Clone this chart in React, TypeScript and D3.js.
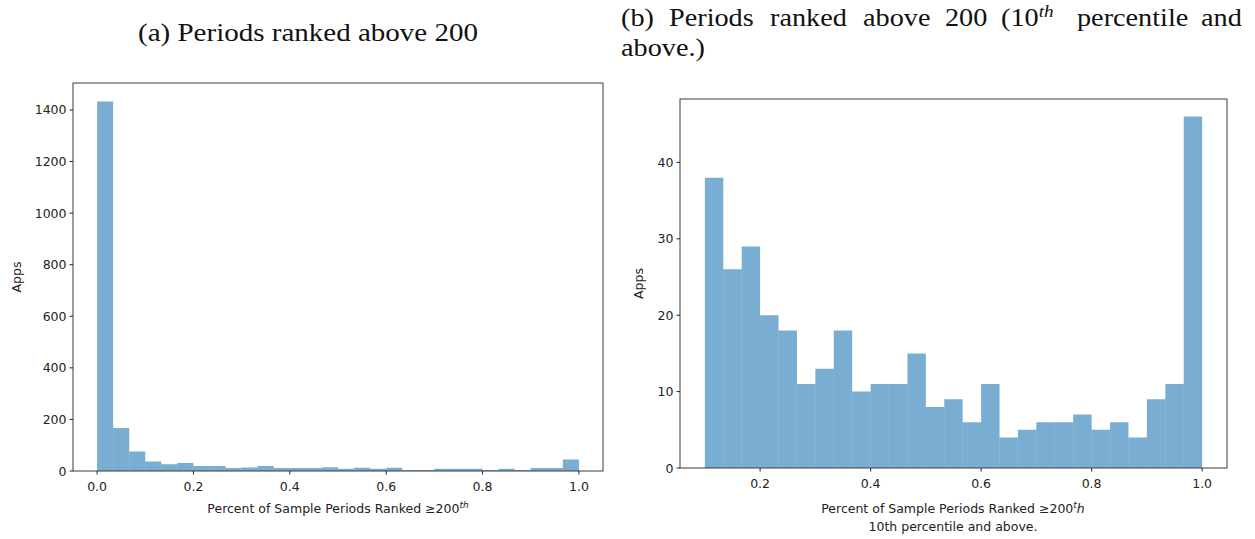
import React from 'react';
import * as d3 from 'd3';

// ---------- data ----------
const leftCounts = [1433, 167, 76, 37, 26, 31, 19, 19, 12, 14, 19, 12, 12, 12, 15, 9, 13, 9, 13, 4, 4, 9, 9, 9, 4, 9, 4, 12, 12, 45];
const leftBinRange = [0, 1];
const leftXTicks = [0, 0.2, 0.4, 0.6, 0.8, 1.0];
const leftYTicks = [0, 200, 400, 600, 800, 1000, 1200, 1400];

const rightCounts = [38, 26, 29, 20, 18, 11, 13, 18, 10, 11, 11, 15, 8, 9, 6, 11, 4, 5, 6, 6, 7, 5, 6, 4, 9, 11, 46];
const rightBinRange = [0.1, 1.0];
const rightXTicks = [0.2, 0.4, 0.6, 0.8, 1.0];
const rightYTicks = [0, 10, 20, 30, 40];

const titleBWords = ['(b)', 'Periods', 'ranked', 'above', '200', '(10', 'percentile', 'and'];

const W = 1255;
const H = 539;
const SANS = "'DejaVu Sans', sans-serif";
const SERIF = "'Liberation Serif', 'DejaVu Serif', serif";
const TICK_FS = 12.5;
const TITLE_FS = 25;
const TITLE_SX = 1.13;

type Box = { x0: number; x1: number; y0: number; y1: number };

function Panel({ box, counts, binRange, xTicks, yTicks, ylabelX }: {
  box: Box; counts: number[]; binRange: number[]; xTicks: number[]; yTicks: number[]; ylabelX: number;
}) {
  const span = binRange[1] - binRange[0];
  const xs = d3.scaleLinear().domain([binRange[0] - 0.05 * span, binRange[1] + 0.05 * span]).range([box.x0, box.x1]);
  const ymax = (d3.max(counts) as number) * 1.05;
  const ys = d3.scaleLinear().domain([0, ymax]).range([box.y1, box.y0]);
  const bw = span / counts.length;
  const fmtX = d3.format('.1f');
  const p = d3.path();
  p.moveTo(xs(binRange[0]), ys(0));
  counts.forEach((c, i) => {
    const a = binRange[0] + i * bw;
    const b = a + bw;
    p.lineTo(xs(a), ys(c));
    p.lineTo(xs(b), ys(c));
  });
  p.lineTo(xs(binRange[1]), ys(0));
  p.closePath();
  return (
    <g>
      <path d={p.toString()} fill="#1f77b4" fillOpacity={0.6} />
      {counts.slice(1).map((c, i) => {
        const xe = xs(binRange[0] + (i + 1) * bw);
        const top = Math.max(ys(c), ys(counts[i]));
        return <line key={i} x1={xe} x2={xe} y1={top} y2={ys(0)} stroke="#ffffff" strokeOpacity={0.12} strokeWidth={0.8} />;
      })}
      <rect x={box.x0} y={box.y0} width={box.x1 - box.x0} height={box.y1 - box.y0}
        fill="none" stroke="#3a3a3a" strokeWidth={1} />
      {xTicks.map((t) => (
        <g key={'x' + t}>
          <line x1={xs(t)} x2={xs(t)} y1={box.y1} y2={box.y1 + 3.5} stroke="#222" strokeWidth={1} />
          <text x={xs(t)} y={box.y1 + 20} textAnchor="middle" fontFamily={SANS} fontSize={TICK_FS} fill="#222">{fmtX(t)}</text>
        </g>
      ))}
      {yTicks.map((t) => (
        <g key={'y' + t}>
          <line x1={box.x0 - 3.5} x2={box.x0} y1={ys(t)} y2={ys(t)} stroke="#222" strokeWidth={1} />
          <text x={box.x0 - 6.5} y={ys(t)} dy="0.36em" textAnchor="end" fontFamily={SANS} fontSize={TICK_FS} fill="#222">{t}</text>
        </g>
      ))}
      <text transform={`translate(${ylabelX},${(box.y0 + box.y1) / 2}) rotate(-90)`} textAnchor="middle"
        fontFamily={SANS} fontSize={TICK_FS} fill="#222">Apps</text>
    </g>
  );
}

export default function App() {
  const leftBox: Box = { x0: 73, x1: 603, y0: 83, y1: 471 };
  const rightBox: Box = { x0: 680, x1: 1227, y0: 99, y1: 468 };
  const wordX = [621, 669, 770, 863, 945, 1001, 1077, 1201];
  return (
    <svg width={W} height={H} style={{ position: 'absolute', left: 0, top: 0, background: '#fff' }}>
      <rect x={0} y={0} width={W} height={H} fill="#fff" />
      {/* titles */}
      <text x={138} y={41} fontFamily={SERIF} fontSize={TITLE_FS} fill="#111" textLength={340} lengthAdjust="spacingAndGlyphs">(a) Periods ranked above 200</text>
      {titleBWords.map((w, i) => (
        <text key={w} transform={`translate(${wordX[i]},26) scale(${TITLE_SX},1)`} fontFamily={SERIF} fontSize={TITLE_FS} fill="#111">
          {w}
          {w === '(10' ? <tspan dy={-9} fontSize={17} fontStyle="italic">th</tspan> : null}
        </text>
      ))}
      <text transform={`translate(621,56) scale(${TITLE_SX},1)`} fontFamily={SERIF} fontSize={TITLE_FS} fill="#111">above.)</text>

      <Panel box={leftBox} counts={leftCounts} binRange={leftBinRange} xTicks={leftXTicks} yTicks={leftYTicks} ylabelX={21} />
      <Panel box={rightBox} counts={rightCounts} binRange={rightBinRange} xTicks={rightXTicks} yTicks={rightYTicks} ylabelX={643} />

      {/* x labels */}
      <text x={338} y={513} textAnchor="middle" fontFamily={SANS} fontSize={TICK_FS} fill="#222">
        Percent of Sample Periods Ranked ≥200<tspan dy={-5} fontSize={9} fontStyle="italic">th</tspan>
      </text>
      <text x={953} y={513} textAnchor="middle" fontFamily={SANS} fontSize={TICK_FS} fill="#222">
        Percent of Sample Periods Ranked ≥200<tspan dy={-5} fontSize={9} fontStyle="italic">t</tspan><tspan dy={5} fontStyle="italic">h</tspan>
      </text>
      <text x={953} y={531} textAnchor="middle" fontFamily={SANS} fontSize={TICK_FS} fill="#222">10th percentile and above.</text>
    </svg>
  );
}
